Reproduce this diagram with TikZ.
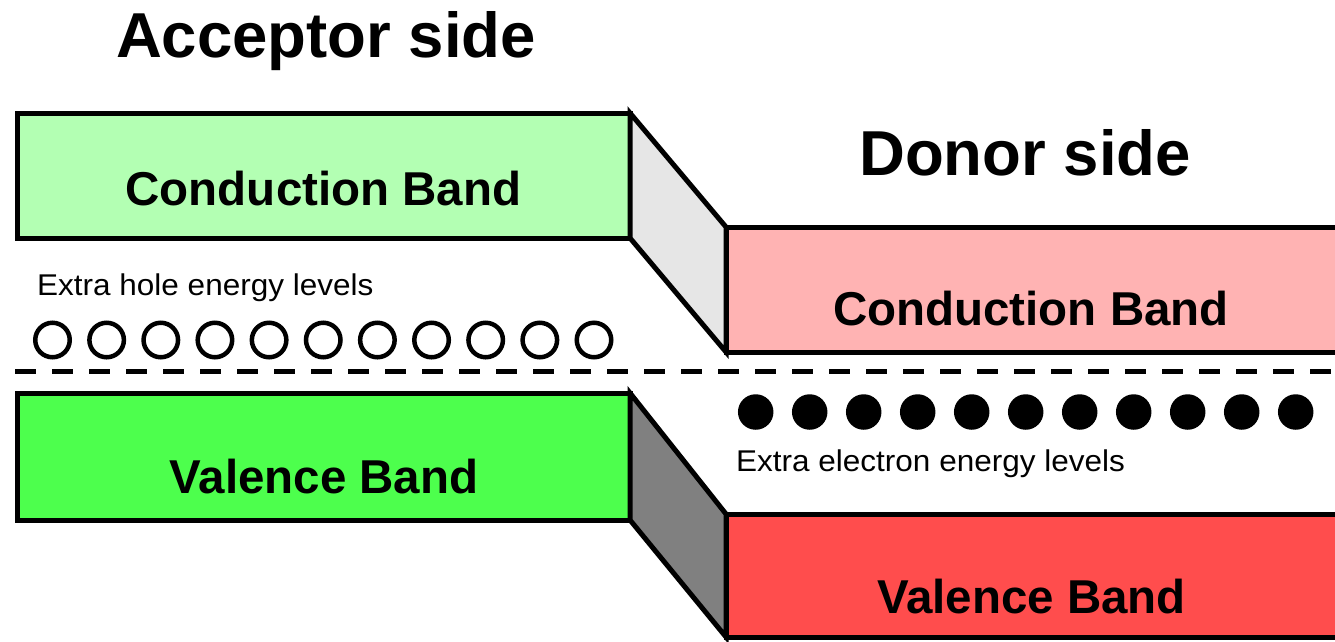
\documentclass[tikz,border=0pt]{standalone}
\usepackage{fontspec}
\setmainfont{Liberation Sans}
\newfontfamily\widefont[FakeStretch=1.05]{Liberation Sans}
\definecolor{cbAcol}{RGB}{179,255,179}
\definecolor{vbAcol}{RGB}{77,255,77}
\definecolor{cbDcol}{RGB}{255,179,179}
\definecolor{vbDcol}{RGB}{255,77,77}
\definecolor{lgray}{RGB}{230,230,230}
\definecolor{dgray}{RGB}{128,128,128}
\begin{document}
\begin{tikzpicture}[x=1pt,y=-1pt,
  band/.style={draw=black, line width=5pt, rectangle, outer sep=0pt, inner sep=0pt},
  joint/.style={draw=black, line width=5pt, line join=miter},
  titletext/.style={font=\fontsize{63.5}{70}\selectfont\bfseries, inner sep=0pt},
  bandtext/.style={font=\fontsize{47.5}{52}\selectfont\bfseries, inner sep=0pt},
  smalltext/.style={font=\widefont\fontsize{30}{33}\selectfont, inner sep=0pt},
  hole/.style={circle, draw=black, line width=4.5pt, minimum size=34.5pt, inner sep=0pt},
  electron/.style={circle, fill=black, minimum size=35.5pt, inner sep=0pt},
  fermi/.style={line width=5pt, dash pattern=on 21pt off 16pt}
]
\useasboundingbox (0,0) rectangle (1335,641);

% bands
\node[band, fill=cbAcol, minimum width=613pt, minimum height=125pt] (cbA) at (323.5,175.5) {};
\node[band, fill=vbAcol, minimum width=613pt, minimum height=127pt] (vbA) at (323.5,456.5) {};
\node[band, fill=cbDcol, minimum width=640pt, minimum height=125pt] (cbD) at (1046,289.5) {};
\node[band, fill=vbDcol, minimum width=640pt, minimum height=123pt] (vbD) at (1046,575.5) {};

% connecting faces
\draw[joint, fill=lgray] (cbA.north east) -- (cbD.north west) -- (cbD.south west) -- (cbA.south east) -- cycle;
\draw[joint, fill=dgray] (vbA.north east) -- (vbD.north west) -- (vbD.south west) -- (vbA.south east) -- cycle;

% band labels
\node[bandtext, anchor=base] (lcbA) at (323.5,205) {Conduction Band};
\node[bandtext, anchor=base] (lvbA) at (324,493) {Valence Band};
\node[bandtext, anchor=base] (lcbD) at (1031,325) {Conduction Band};
\node[bandtext, anchor=base] (lvbD) at (1031.5,613) {Valence Band};

% titles
\node[titletext, anchor=base] (tA) at (326,57) {Acceptor side};
\node[titletext, anchor=base] (tD) at (1025,175) {Donor side};

% Fermi level
\coordinate (fl) at (15,371);
\coordinate (fr) at (1340,371);
\draw[fermi] (fl) -- (fr);

% extra levels
\foreach \i in {0,...,10} {
  \node[hole] (h\i) at (52.5+54.15*\i,340) {};
  \node[electron] (e\i) at (755.7+54*\i,412) {};
}
\node[smalltext, anchor=base west] (xh) at (37,295) {Extra hole energy levels};
\node[smalltext, anchor=base west] (xe) at (736,471) {Extra electron energy levels};
\end{tikzpicture}
\end{document}
